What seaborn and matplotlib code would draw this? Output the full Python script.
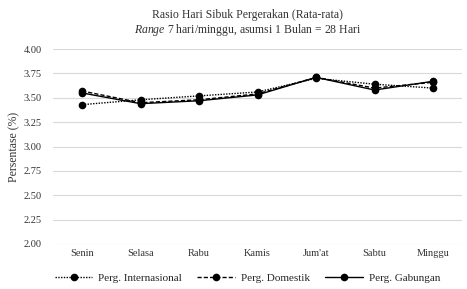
import numpy as np
import pandas as pd
import matplotlib
matplotlib.use("Agg")
import matplotlib.pyplot as plt
import seaborn as sns

# data
days = ["Senin", "Selasa", "Rabu", "Kamis", "Jum'at", "Sabtu", "Minggu"]
internasional = [3.43, 3.48, 3.52, 3.56, 3.70, 3.64, 3.60]
domestik = [3.57, 3.45, 3.48, 3.54, 3.71, 3.60, 3.66]
gabungan = [3.55, 3.44, 3.47, 3.53, 3.71, 3.58, 3.67]
series_names = ["Perg. Internasional", "Perg. Domestik", "Perg. Gabungan"]
y_ticks = [2.00, 2.25, 2.50, 2.75, 3.00, 3.25, 3.50, 3.75, 4.00]

df = pd.DataFrame({
    "hari": days * 3,
    "nilai": internasional + domestik + gabungan,
    "seri": np.repeat(series_names, len(days)),
})

sns.set_theme(style="white")
plt.rcParams["font.family"] = ["Liberation Serif", "DejaVu Serif"]
plt.rcParams["mathtext.fontset"] = "custom"
plt.rcParams["mathtext.it"] = "Liberation Serif:italic"
plt.rcParams["mathtext.rm"] = "Liberation Serif"

fig = plt.figure(figsize=(4.67, 2.89), dpi=100)
ax = fig.add_axes([0.113, 0.156, 0.877, 0.674])

sns.lineplot(
    data=df, x="hari", y="nilai", style="seri", style_order=series_names,
    dashes={"Perg. Internasional": (1, 1), "Perg. Domestik": (3, 1.5),
            "Perg. Gabungan": ""},
    markers={n: "o" for n in series_names},
    color="black", linewidth=1.0, markersize=5.5, markeredgewidth=0,
    ax=ax, sort=False, legend="full",
)

ax.set_ylim(2.0, 4.0)
ax.set_xlim(-0.5, 6.5)
ax.set_yticks(y_ticks)
ax.set_yticklabels([f"{v:.2f}" for v in y_ticks], fontsize=7.5, color="#333333")
ax.tick_params(axis="x", labelsize=7.5, colors="#333333", length=0, pad=4)
ax.tick_params(axis="y", length=0, pad=8)
ax.grid(axis="y", color="#d9d9d9", linewidth=0.8)
ax.set_axisbelow(True)
for s in ax.spines.values():
    s.set_visible(False)
ax.set_xlabel("")
ax.set_ylabel("Persentase (%)", fontsize=8.5, color="#333333", labelpad=2)

fig.text(0.53, 0.947, "Rasio Hari Sibuk Pergerakan (Rata-rata)",
         ha="center", va="center", fontsize=8.5, color="#333333")
fig.text(0.53, 0.895, r"$\it{Range}$ 7 hari/minggu, asumsi 1 Bulan = 28 Hari",
         ha="center", va="center", fontsize=8.5, color="#333333")

handles, labels = ax.get_legend_handles_labels()
ax.legend(handles, labels, loc="center", bbox_to_anchor=(0.475, -0.175),
          ncol=3, frameon=False, fontsize=8, handlelength=3.4,
          columnspacing=1.4, handletextpad=0.5)

plt.savefig("out.png", dpi=100)
plt.close()
